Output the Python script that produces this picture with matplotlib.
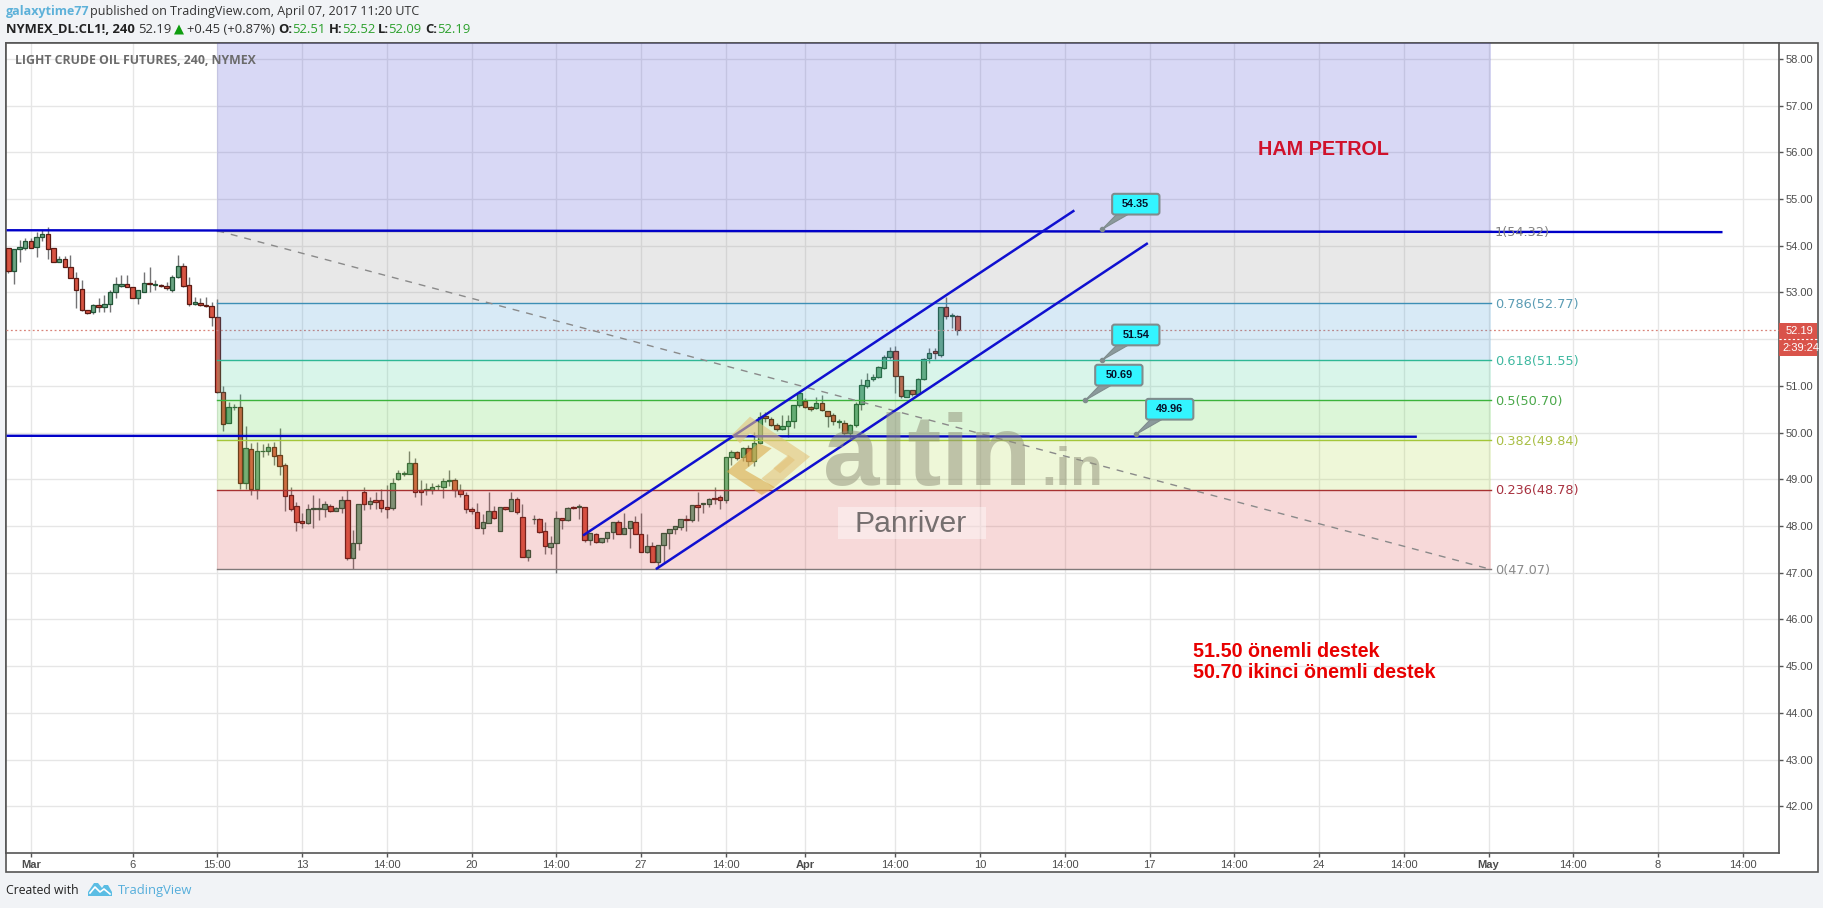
import matplotlib
matplotlib.use("Agg")
import matplotlib.pyplot as plt
from matplotlib.patches import FancyBboxPatch, Polygon, Rectangle

W, H = 1824, 908

# candles, one row per 4h bar
opens = [53.94,53.46,53.92,53.94,54.09,53.98,54.18,54.24,53.94,53.66,53.71,53.55,53.31,53.08,52.62,52.57,52.74,52.69,52.76,53.01,
         53.14,53.17,53.11,52.89,53.01,53.21,53.16,53.16,53.13,53.06,53.32,53.56,53.15,52.76,52.77,52.73,52.71,52.47,50.87,50.20,
         50.54,50.54,48.91,49.64,48.80,49.60,49.61,49.68,49.51,49.30,48.66,48.43,48.10,48.07,48.36,48.36,48.36,48.43,48.31,48.38,
         48.55,47.31,47.63,48.73,48.46,48.55,48.55,48.40,48.39,49.00,49.12,49.12,49.34,48.76,48.77,48.76,48.85,48.83,48.97,48.98,
         48.76,48.67,48.36,48.29,47.96,48.07,48.33,47.90,48.40,48.31,48.57,48.19,47.33,48.14,48.14,47.89,47.54,47.63,48.16,48.13,
         48.40,48.41,48.41,47.70,47.82,47.65,47.75,47.86,48.09,47.82,47.95,48.09,47.82,47.45,47.56,47.23,47.60,47.84,47.93,47.98,
         48.14,48.12,48.44,48.47,48.48,48.60,48.61,48.55,49.47,49.58,49.47,49.67,49.38,49.78,50.35,50.30,50.17,50.08,50.13,50.24,
         50.59,50.67,50.55,50.53,50.64,50.47,50.37,50.23,50.21,49.98,50.17,50.60,51.00,51.14,51.18,51.39,51.61,51.75,51.20,50.77,
         50.90,50.82,51.15,51.60,51.74,51.67,52.68,52.50,52.49]
highs = [53.94,53.92,54.12,54.16,54.16,54.29,54.34,54.41,53.94,53.77,53.77,53.80,53.44,53.26,52.62,52.76,52.87,52.94,53.05,53.33,
         53.37,53.37,53.12,53.05,53.44,53.55,53.26,53.17,53.23,53.37,53.80,53.62,53.33,52.91,52.87,52.91,52.80,52.85,51.00,50.66,
         50.62,50.83,50.15,49.78,49.79,49.75,49.77,49.79,50.09,49.34,48.84,48.52,48.27,48.47,48.66,48.59,48.54,48.46,48.40,48.64,
         48.78,47.91,48.48,48.84,48.63,48.73,48.80,48.88,49.02,49.20,49.18,49.61,49.45,48.98,48.93,48.92,48.90,49.02,49.20,49.02,
         48.90,48.72,48.40,48.50,48.25,48.72,48.42,48.40,48.41,48.72,48.61,48.47,47.50,48.23,48.16,48.09,47.79,48.32,48.16,48.41,
         48.43,48.47,48.41,47.84,47.84,47.72,47.77,47.91,48.12,48.27,47.98,48.21,48.27,47.82,47.66,47.60,47.84,47.84,47.98,48.05,
         48.23,48.14,48.73,48.50,48.60,48.84,48.66,49.47,49.62,49.60,49.68,49.74,50.02,50.44,50.44,50.34,50.20,50.37,50.37,50.59,
         50.84,50.73,50.57,50.77,50.80,50.47,50.41,50.30,50.27,50.19,50.66,51.14,51.28,51.25,51.43,51.66,51.84,51.86,51.20,50.92,
         50.90,51.17,51.60,51.80,51.80,52.68,52.91,52.55,52.52]
lows = [53.41,53.19,53.66,53.91,53.94,53.76,54.09,53.71,53.64,53.64,53.55,53.30,52.66,52.60,52.53,52.53,52.59,52.59,52.59,52.87,
        53.12,53.12,52.89,52.76,53.01,53.01,53.05,53.12,53.06,53.01,53.30,53.12,52.71,52.73,52.70,52.69,52.28,50.85,50.04,50.20,
        50.48,48.80,48.80,48.66,48.58,49.47,49.52,49.30,49.09,48.31,48.31,47.90,47.96,48.05,47.96,48.13,48.20,48.29,48.31,48.27,
        47.27,47.08,47.49,48.34,48.36,48.36,48.30,48.16,48.34,48.99,49.06,49.11,48.63,48.45,48.66,48.68,48.78,48.60,48.86,48.61,
        48.61,48.27,48.25,47.96,47.83,48.07,48.14,47.90,48.35,48.31,48.26,47.33,47.24,48.05,47.85,47.41,47.41,47.00,47.93,48.10,
        48.36,48.14,47.65,47.59,47.63,47.63,47.65,47.73,47.86,47.82,47.53,47.95,47.82,47.42,47.34,47.09,47.20,47.50,47.82,47.91,
        47.90,48.08,48.11,48.27,48.40,48.47,48.37,48.49,49.30,49.42,49.40,49.28,49.28,49.76,50.23,50.14,50.04,50.05,49.91,50.09,
        50.55,50.52,50.45,50.51,50.47,50.12,50.16,50.10,49.95,49.87,50.12,50.48,50.95,51.11,51.16,51.37,51.58,50.84,50.74,50.75,
        50.78,50.80,51.12,51.48,51.58,51.61,52.44,52.23,52.09]
closes = [53.46,53.92,53.98,54.09,53.96,54.18,54.24,53.92,53.64,53.71,53.55,53.31,53.06,52.62,52.55,52.74,52.69,52.76,53.01,53.17,
          53.18,53.12,52.89,53.05,53.21,53.17,53.16,53.13,53.09,53.32,53.56,53.14,52.75,52.79,52.72,52.70,52.47,50.87,50.18,50.54,
          50.54,48.91,49.66,48.80,49.60,49.60,49.68,49.50,49.29,48.65,48.37,48.09,48.07,48.36,48.36,48.36,48.46,48.31,48.38,48.55,
          47.31,47.63,48.48,48.46,48.53,48.52,48.39,48.37,48.93,49.13,49.12,49.34,48.73,48.73,48.77,48.84,48.85,48.97,48.97,48.77,
          48.69,48.36,48.31,47.96,48.08,48.33,48.16,48.40,48.37,48.57,48.29,47.33,47.48,48.14,47.88,47.56,47.63,48.16,48.13,48.38,
          48.38,48.41,47.69,47.84,47.65,47.75,47.86,48.08,47.82,47.95,48.11,47.82,47.45,47.56,47.23,47.60,47.84,47.93,48.00,48.14,
          48.12,48.44,48.41,48.47,48.58,48.58,48.55,49.47,49.58,49.46,49.66,49.38,49.78,50.34,50.31,50.17,50.08,50.13,50.24,50.59,
          50.84,50.55,50.51,50.64,50.48,50.36,50.24,50.23,49.98,50.17,50.60,51.01,51.12,51.18,51.41,51.61,51.74,51.20,50.79,50.90,
          50.82,51.15,51.58,51.71,51.71,52.68,52.49,52.50,52.19]

# fibonacci retracement
fib_ratios = [1.618, 1, 0.786, 0.618, 0.5, 0.382, 0.236, 0]
fib_levels = [58.80, 54.32, 52.77, 51.55, 50.70, 49.84, 48.78, 47.07]
fib_fill = ["#3c3ccd", "#8c8c8c", "#3c96d2", "#41cd96", "#50d23c", "#aad73c", "#d74141"]
fib_line = ["#8c8c8c", "#808080", "#3d8fb5", "#2fb795", "#3cb33c", "#a4c639", "#a83232", "#807a7a"]
fib_text = ["#8c8c8c", "#808080", "#5b9cb4", "#3fb8a0", "#4aa84a", "#a9bf45", "#a83240", "#8a8a8a"]
fib_start, fib_end = 37, 262.4

# drawn trend lines: (bar, price) ends
level_high = ([-0.3, 303.4], [54.33, 54.29])
level_mid = ([-0.3, 249.3], [49.93, 49.91])
chan_upper = ([101.9, 188.5], [47.81, 54.74])
chan_lower = ([114.8, 201.5], [47.09, 54.04])

# callouts: bar, price, text
call_bars = [193.6, 193.6, 190.6, 199.6]
call_prices = [54.35, 51.55, 50.69, 49.96]
call_texts = ["54.35", "51.54", "50.69", "49.96"]

xtick_bars = [4, 22, 37, 52, 67, 82, 97, 112, 127, 141, 157, 172, 187, 202, 217, 232, 247, 262, 277, 292, 307]
xtick_labels = ["Mar", "6", "15:00", "13", "14:00", "20", "14:00", "27", "14:00", "Apr", "14:00", "10",
                "14:00", "17", "14:00", "24", "14:00", "May", "14:00", "8", "14:00"]
ytick_values = list(range(42, 59))
last_price = 52.19

fig = plt.figure(figsize=(W / 100, H / 100), dpi=100, facecolor="#f1f3f6")

# full figure axes in pixels, y going down
def px_axes(z):
    a = fig.add_axes([0, 0, 1, 1], zorder=z)
    a.set_xlim(0, W)
    a.set_ylim(H, 0)
    a.axis("off")
    a.patch.set_alpha(0)
    return a

back = px_axes(0)
back.add_patch(Rectangle((6.5, 43.4), 1811.5, 828.4, fc="white", ec="#555555", lw=1.2))

left, right, top, bottom = 6.5, 1779, 43.4, 852.7
ax = fig.add_axes([left / W, 1 - bottom / H, (right - left) / W, (bottom - top) / H], zorder=1)
ax.set_xlim((left - 8.3) / 5.65, (right - 8.3) / 5.65)
ax.set_ylim(41.005, 58.33)
ax.set_facecolor("white")
for s in ax.spines.values():
    s.set_color("#555555")
    s.set_linewidth(1.2)

ax.yaxis.tick_right()
ax.set_yticks(ytick_values)
ax.set_yticklabels(["%.2f" % v for v in ytick_values])
ax.set_xticks(xtick_bars)
ax.set_xticklabels(xtick_labels)
ax.tick_params(length=3, width=1, color="#555555", labelcolor="#4c4c4c", labelsize=8, pad=2)
for t in ax.get_xticklabels() + ax.get_yticklabels():
    t.set_family("Liberation Sans")
for t in ax.get_xticklabels():
    if t.get_text() in ("Mar", "Apr", "May"):
        t.set_fontweight("bold")
ax.grid(True, color="#e6e6e6", lw=1)
ax.set_axisbelow(True)

# candles
bars = list(range(len(opens)))
up = [c >= o for o, c in zip(opens, closes)]
ax.vlines(bars, lows, highs, color="#737375", lw=1, zorder=2)
ax.bar(bars, [max(abs(c - o), 0.015) for o, c in zip(opens, closes)], bottom=[min(o, c) for o, c in zip(opens, closes)],
       width=0.78, color=["#6ba583" if u else "#d75442" for u in up],
       edgecolor=["#225437" if u else "#5b1a13" for u in up], linewidth=0.9, zorder=3)

ax.axhline(last_price, color="#d9847a", lw=0.9, ls=(0, (1.5, 2)), zorder=4)

# fib zones go over the candles
for i in range(len(fib_fill)):
    ax.fill_between([fib_start, fib_end], fib_levels[i + 1], fib_levels[i], color=fib_fill[i], alpha=0.2, lw=0, zorder=5)
for i in range(1, len(fib_levels)):
    ax.plot([fib_start, fib_end], [fib_levels[i], fib_levels[i]], color=fib_line[i], lw=1, zorder=6)
    ax.text(fib_end + 0.7, fib_levels[i] - 0.03, "%g(%.2f)" % (fib_ratios[i], fib_levels[i]), color=fib_text[i],
            fontsize=9.3, family="DejaVu Sans", va="center", ha="left", zorder=9)
ax.plot([fib_start, fib_end], [fib_levels[1], fib_levels[-1]], color="#8a8a8a", lw=1, ls=(0, (5, 5)), zorder=6)

for line in (level_high, level_mid):
    ax.plot(line[0], line[1], color="#0000c8", lw=1.7, zorder=7, solid_capstyle="butt")
for line in (chan_upper, chan_lower):
    ax.plot(line[0], line[1], color="#1010d0", lw=1.8, zorder=7)

over = px_axes(3)

# watermark, in pixels
logo_a = [(35, 105), (90, 50), (270, 170), (160, 265), (125, 235), (205, 170), (90, 100), (60, 130)]
logo_b = [(20, 215), (115, 130), (155, 145), (75, 210), (165, 262), (125, 285)]
logo_c = [(160, 205), (205, 165), (225, 180), (180, 220)]
for shape, col in ((logo_a, "#e3c27a"), (logo_b, "#dba94a"), (logo_c, "#e3c27a")):
    over.add_patch(Polygon([(720 + x / 3, 400 + y / 3) for x, y in shape], fc=col, ec="none", alpha=0.6))
over.text(823, 485, "altin", family="Liberation Sans", fontweight="bold", fontsize=73, color="#8f8f78", alpha=0.5, va="baseline")
over.text(1041, 485, ".in", family="Liberation Sans", fontweight="bold", fontsize=38, color="#8f8f78", alpha=0.5, va="baseline")
over.add_patch(Rectangle((838, 506.7), 147.7, 32.6, fc="white", ec="none", alpha=0.4))
over.text(855, 531.5, "Panriver", family="Liberation Sans", fontsize=21.7, color="#756f6f", va="baseline")

# notes
over.text(1258, 155, "HAM PETROL", family="Liberation Sans", fontweight="bold", fontsize=14.2, color="#d0112b", va="baseline")
over.text(1193, 657.3, "51.50 önemli destek", family="Liberation Sans", fontweight="bold", fontsize=14.2, color="#e80000", va="baseline")
over.text(1193, 678.3, "50.70 ikinci önemli destek", family="Liberation Sans", fontweight="bold", fontsize=14.2, color="#e80000", va="baseline")
over.text(15, 60, "LIGHT CRUDE OIL FUTURES, 240, NYMEX", family="Open Sans", fontweight="bold", fontsize=8.85, color="#6b6b6b", va="center")

# callouts
for b, p, s in zip(call_bars, call_prices, call_texts):
    dx, dy = ax.transData.transform((b, p))
    ax_px, ay_px = dx, H - dy
    bx, by = ax_px + 10, ay_px - 35.5
    over.add_patch(Polygon([(ax_px, ay_px), (bx + 5, by + 20), (bx + 17, by + 20)], fc="#8b9a9c", ec="#7f8c8d", lw=0.8, zorder=5))
    over.add_patch(FancyBboxPatch((bx + 2, by + 2), 43.3, 16.7, boxstyle="round,pad=2,rounding_size=2.5",
                                  fc="#33f5ff", ec="#7f8c8d", lw=1.5, zorder=6))
    over.text(bx + 23.6, by + 10.5, s, family="Liberation Sans", fontweight="bold", fontsize=7.8, color="#06122a",
              ha="center", va="center", zorder=7)
    over.plot([ax_px], [ay_px], "o", ms=3, color="#7f8c8d", zorder=7)

# price tag
over.add_patch(Rectangle((1779.5, 322.7), 38, 33, fc="#d9534a", ec="none"))
over.plot([1779.5, 1817.5], [339.2, 339.2], color="white", lw=0.8, ls=(0, (2, 2)))
over.text(1785.5, 331, "52.19", family="Liberation Sans", fontsize=8, color="white", va="center")
over.text(1782.5, 348, "2:39:24", family="Liberation Sans", fontsize=8, color="white", va="center")

# header
green = "#2ca02c"
dark = "#333333"
def head(x, y, s, color=dark, weight="normal", size=9.4):
    over.text(x, y, s, family="Open Sans", fontsize=size, color=color, fontweight=weight, va="center")

head(6.3, 11.5, "galaxytime77", "#5db1d9", "bold", 9.0)
head(90, 11.5, "published on TradingView.com, April 07, 2017 11:20 UTC", size=9.0)
head(6.3, 29.5, "NYMEX_DL:CL1!, 240", "#222222", "bold")
head(138, 29.5, "52.19")
over.add_patch(Polygon([(174, 34.5), (184, 34.5), (179, 24.5)], fc="#0f9d0f", ec="none"))
head(187, 29.5, "+0.45 (+0.87%)")
for x1, k, x2, v in ((278, "O:", 292, "52.51"), (328.5, "H:", 342, "52.52"), (377.5, "L:", 387.7, "52.09"), (425.7, "C:", 437.5, "52.19")):
    head(x1, 29.5, k, "#222222", "bold")
    head(x2, 29.5, v, green)

# footer
head(6.3, 890.5, "Created with", "#222222", size=8.8)
over.add_patch(Polygon([(88, 896), (88, 892), (94, 883), (98, 883), (102, 888), (104, 885), (108, 885), (112, 892), (112, 896)],
                       fc="#5bbde4", ec="none"))
over.plot([90, 95, 100, 104, 110], [893, 887, 892, 889, 894], color="white", lw=1.2)
head(118, 890.5, "TradingView", "#55aedb")

fig.savefig("out.png", dpi=100, facecolor=fig.get_facecolor())
